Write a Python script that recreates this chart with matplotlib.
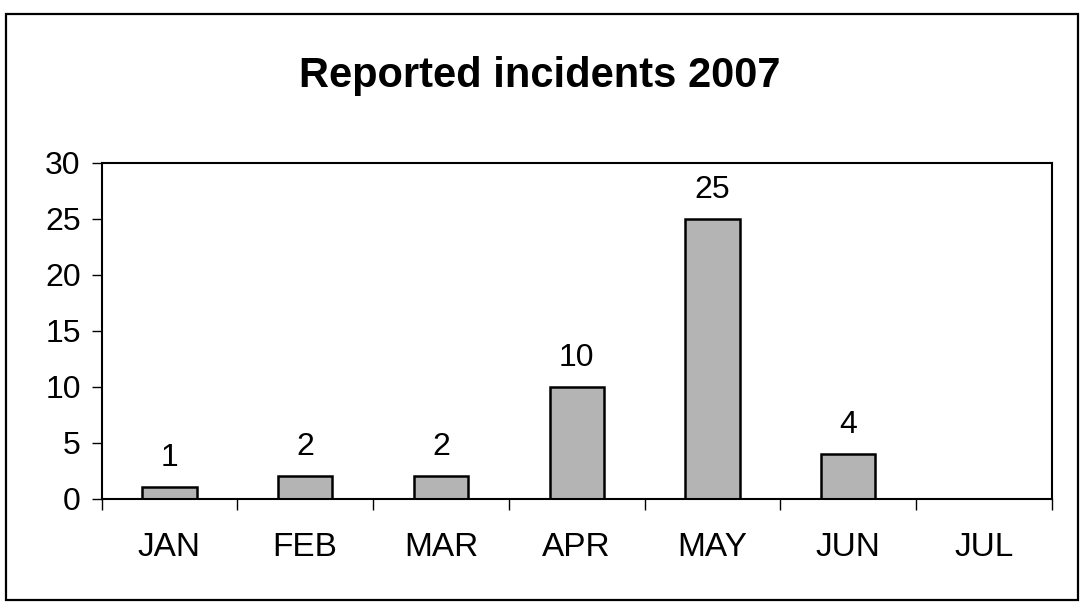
import numpy as np
import matplotlib.pyplot as plt
from matplotlib.patches import Rectangle

# data (JUL has no value)
months = ['JAN', 'FEB', 'MAR', 'APR', 'MAY', 'JUN', 'JUL']
incidents = [1, 2, 2, 10, 25, 4, np.nan]
y_ticks = [0, 5, 10, 15, 20, 25, 30]

plt.rcParams['font.family'] = ['Liberation Sans', 'DejaVu Sans']

fig = plt.figure(figsize=(10.8, 6.14), dpi=100)
ax = fig.add_axes([0.094, 0.188, 0.880, 0.547])

x = np.arange(len(months))
vals = np.array(incidents, dtype=float)
has = ~np.isnan(vals)
ax.bar(x[has], vals[has], width=0.4, color='#b4b4b4', edgecolor='black', linewidth=1.8)

for xi, v in zip(x[has], vals[has]):
    ax.annotate(f'{int(v)}', (xi, v), xytext=(0, 10), textcoords='offset points',
                ha='center', va='bottom', fontsize=23)

ax.set_xlim(-0.5, len(months) - 0.5)
ax.set_ylim(0, 30)
ax.set_yticks(y_ticks)
ax.tick_params(axis='y', labelsize=23, length=7, width=1, pad=8)

# category labels centred, tick marks between categories
ax.set_xticks(x)
ax.set_xticklabels(months)
ax.tick_params(axis='x', which='major', length=0, labelsize=24, pad=24)
ax.set_xticks(np.arange(len(months) + 1) - 0.5, minor=True)
ax.tick_params(axis='x', which='minor', length=8, width=1, direction='out')

for s in ax.spines.values():
    s.set_linewidth(1.5)
    s.set_color('black')

fig.text(0.5, 0.876, 'Reported incidents 2007', ha='center', va='center',
         fontsize=30, fontweight='bold')

# outer chart border
fig.patches.append(Rectangle((0.006, 0.023), 0.992, 0.955, transform=fig.transFigure,
                             fill=False, edgecolor='black', linewidth=1.6))

fig.savefig('out.png', dpi=100)
